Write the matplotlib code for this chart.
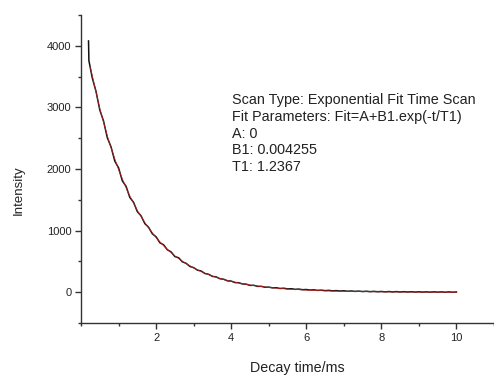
import matplotlib.pyplot as plt
from matplotlib.ticker import MultipleLocator

plt.rcParams['font.family'] = ['Liberation Sans', 'DejaVu Sans']

# datos medidos (tiempo en ms, intensidad)
tiempo = [0.2, 0.21, 0.3, 0.4, 0.5, 0.6, 0.7, 0.8, 0.9, 1.0,
          1.1, 1.2, 1.3, 1.4, 1.5, 1.6, 1.7, 1.8, 1.9, 2.0,
          2.1, 2.2, 2.3, 2.4, 2.5, 2.6, 2.7, 2.8, 2.9, 3.0,
          3.1, 3.2, 3.3, 3.4, 3.5, 3.6, 3.7, 3.8, 3.9, 4.0,
          4.1, 4.2, 4.3, 4.4, 4.5, 4.6, 4.7, 4.8, 4.9, 5.0,
          5.1, 5.2, 5.3, 5.4, 5.5, 5.6, 5.7, 5.8, 5.9, 6.0,
          6.1, 6.2, 6.3, 6.4, 6.5, 6.6, 6.7, 6.8, 6.9, 7.0,
          7.1, 7.2, 7.3, 7.4, 7.5, 7.6, 7.7, 7.8, 7.9, 8.0,
          8.1, 8.2, 8.3, 8.4, 8.5, 8.6, 8.7, 8.8, 8.9, 9.0,
          9.1, 9.2, 9.3, 9.4, 9.5, 9.6, 9.7, 9.8, 9.9, 10.0]
intensidad = [4080, 3760, 3480, 3260, 2960, 2780, 2510, 2360, 2130, 2020,
              1810, 1720, 1540, 1460, 1310, 1240, 1115, 1055, 950, 900,
              805, 770, 690, 655, 580, 560, 495, 470, 420, 400,
              360, 345, 305, 292, 258, 250, 220, 212, 186, 182,
              158, 155, 135, 132, 112, 114, 96, 97, 82, 84,
              72, 74, 62, 66, 55, 58, 48, 52, 42, 45,
              36, 40, 31, 35, 27, 31, 23, 27, 20, 24,
              17, 21, 15, 19, 12, 17, 10, 15, 9, 13,
              7, 12, 6, 11, 5, 10, 4, 9, 3, 8,
              3, 7, 2, 7, 2, 6, 1, 6, 1, 5]

# curva de ajuste (roja)
tiempoAjuste = [0.25, 0.5, 0.75, 1.0, 1.25, 1.5, 1.75, 2.0, 2.25, 2.5,
                2.75, 3.0, 3.25, 3.5, 3.75, 4.0, 4.5, 5.0, 5.5, 6.0,
                6.5, 7.0, 7.5, 8.0, 8.5, 9.0, 9.5, 10.0]
intensidadAjuste = [3650, 2982, 2435, 1990, 1625, 1328, 1085, 886, 724, 591,
                    483, 395, 322, 263, 215, 176, 117, 78, 52, 35,
                    23, 16, 10, 7, 5, 3, 2, 1]

textoAjuste = ["Scan Type: Exponential Fit Time Scan",
               "Fit Parameters: Fit=A+B1.exp(-t/T1)",
               "A: 0",
               "B1: 0.004255",
               "T1: 1.2367"]

fig = plt.figure(figsize=(4.94, 3.77), dpi=100)
ax = fig.add_axes([0.164, 0.143, 0.836, 0.817])

ax.plot(tiempo, intensidad, color='#111111', linewidth=1.1)
ax.plot(tiempoAjuste, intensidadAjuste, color='#cc2222', linewidth=0.5)

ax.set_xlim(0, 11)
ax.set_ylim(-500, 4500)
ax.xaxis.set_major_locator(MultipleLocator(2))
ax.xaxis.set_minor_locator(MultipleLocator(1))
ax.yaxis.set_major_locator(MultipleLocator(1000))
ax.yaxis.set_minor_locator(MultipleLocator(500))
ax.set_xticks([2, 4, 6, 8, 10])

for lado in ['top', 'right']:
    ax.spines[lado].set_visible(False)
for lado in ['left', 'bottom']:
    ax.spines[lado].set_color('#333333')
    ax.spines[lado].set_linewidth(1.0)

ax.tick_params(which='major', direction='out', length=4, width=1, colors='#333333',
               labelsize=8, labelcolor='#222222', pad=3)
ax.tick_params(which='minor', direction='out', length=2.5, width=1, colors='#333333')

fig.text(0.037, 0.495, "Intensity", rotation=90, ha='center', va='center', fontsize=9.5, color='#222222')
fig.text(0.601, 0.024, "Decay time/ms", ha='center', va='center', fontsize=10.3, color='#222222')

for i, linea in enumerate(textoAjuste):
    fig.text(0.470, 1 - (100 + i * 16.8) / 377, linea, ha='left', va='center', fontsize=10.4, color='#222222')

fig.savefig("out.png", dpi=100)
